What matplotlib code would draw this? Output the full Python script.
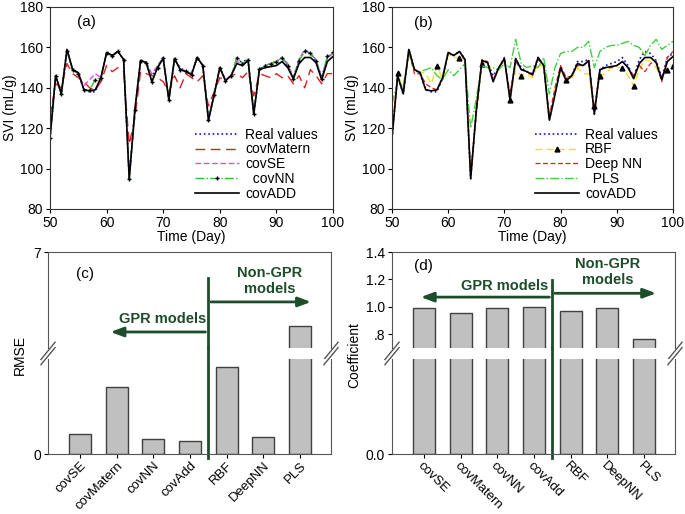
import matplotlib
matplotlib.use("Agg")
import matplotlib.pyplot as plt

plt.rcParams['font.family'] = ['Liberation Sans', 'DejaVu Sans']
plt.rcParams['font.size'] = 9.5

# ---- time series data ----
days = list(range(50, 101))

real_values = [115, 146, 137, 159, 149, 147, 139, 138, 138, 145,
               157.5, 156, 158, 154, 95, 129, 153.5, 152.5, 146, 150,
               155, 134, 154, 150, 148, 147, 155, 151, 124, 137,
               150, 144, 146, 153, 153, 154, 127, 149, 151, 152,
               153, 155, 151, 145, 154, 158, 157, 153.5, 145, 155, 157]
cov_add = [115, 146, 137, 159, 149, 147.5, 139, 138.5, 139, 145,
           157.5, 156, 158, 154, 95, 129, 153.5, 152.5, 143, 150,
           154.5, 134, 154.5, 149, 148, 146.5, 155, 151, 124, 136.5,
           150, 143.5, 146, 152, 151, 153.5, 127, 149, 150, 150.5,
           151, 153, 150, 144.5, 152, 155, 155, 152.5, 144, 153, 155.5]
cov_nn = [115, 146, 137, 158, 149, 147, 139, 139, 144, 145,
          157, 155.5, 158, 154, 95, 129, 153.5, 152.5, 143, 150,
          155, 134, 154.5, 149, 148.5, 146.5, 155, 151, 124, 136.5,
          150, 143.5, 146, 155, 152, 154, 127, 149.5, 151, 152,
          153, 155, 151, 144.5, 153.5, 158, 157, 153.5, 144.5, 155.5, 157.5]
cov_se = [116, 146, 138, 158, 149, 147, 141, 144, 147, 145,
          157, 156, 158, 154, 96, 129, 153, 152, 147, 151,
          155, 135, 154, 150, 148, 147, 155, 151, 125, 137,
          150, 144, 146, 153, 152, 154, 128, 149, 151, 152,
          153, 155, 152, 145, 154, 159, 157, 154, 145, 155, 157]
cov_matern = [126, 142, 140, 152, 147, 145, 143, 140, 139, 143,
              151, 148, 150, 148, 112, 125, 148, 147, 146, 145,
              143, 138, 146, 140, 147, 145, 143, 146, 131, 138,
              145, 144, 146, 147, 145, 148, 136, 147, 146, 145,
              147, 145, 146, 142, 146, 140, 149, 146, 142, 147, 147]

rbf = [118, 147.5, 138, 158, 148, 148, 147, 142, 151, 144,
       157, 155, 155, 153, 97, 127, 152, 152, 144, 150,
       153, 134, 149, 146, 147, 145, 152, 150, 124, 140,
       148, 144, 145, 150, 147, 147, 131, 146, 147, 150,
       150, 150, 146, 141, 149, 154, 153, 150, 144, 149, 151]
deep_nn = [117, 146, 138, 158, 147, 147, 142, 140, 139, 144,
           157, 156, 158, 153, 97, 127, 154, 153, 144, 150,
           154, 137, 153, 149, 148, 146, 154, 151, 126, 140,
           151, 145, 146, 151, 151, 153, 129, 149, 150, 150,
           151, 153, 150, 146, 151, 148, 152, 153, 143, 155, 158]
pls = [132, 143, 141, 157, 149, 148, 149, 150, 146, 144,
       149, 146, 149, 152, 120, 135, 151, 150, 150, 149,
       152, 150, 164, 152, 150, 151, 150, 155, 137, 150,
       157, 158, 158, 160, 160, 163, 150, 158, 160, 161,
       161, 162, 163, 161, 160, 156, 161, 164, 159, 161, 163]

# ---- bar data ----
models = ['covSE', 'covMatern', 'covNN', 'covAdd', 'RBF', 'DeepNN', 'PLS']
rmse = [0.63, 2.12, 0.47, 0.41, 2.75, 0.54, 5.46]
coef = [0.99, 0.956, 0.993, 0.998, 0.97, 0.99, 0.763]

W, H = 685, 514
fig = plt.figure(figsize=(6.85, 5.14), dpi=100)


def rect(l, t, r, b):
    return [l / W, 1 - b / H, (r - l) / W, (b - t) / H]


GREEN = '#1d4d2a'

# ---------- (a) ----------
ax = fig.add_axes(rect(50, 7, 333, 209))
ax.plot(days, real_values, color='#1010e0', ls=':', lw=1.2, label='Real values')
ax.plot(days, cov_matern, color='#e02020', ls=(0, (7, 4)), lw=1, label='covMatern')
ax.plot(days, cov_se, color='#e050e0', ls=(0, (4, 2)), lw=1, label='covSE')
ax.plot(days, cov_nn, color='#30c030', ls='-.', lw=1, marker='+', ms=3,
        mec='black', mew=1, label='  covNN')
ax.plot(days, cov_add, color='black', lw=1.2, label='covADD')
ax.text(0.13, 0.925, '(a)', transform=ax.transAxes, fontsize=11, ha='center', va='center')

# ---------- (b) ----------
bx = fig.add_axes(rect(392, 7, 673, 209))
bx.plot(days, real_values, color='#1010e0', ls=':', lw=1.2, label='Real values')
bx.plot(days, rbf, color='#f0e020', ls=(0, (5, 3)), lw=1, marker='^', ms=3.5,
        mec='black', mfc='black', markevery=[1, 8, 12, 16, 21, 23, 31, 36, 37, 41, 43, 49, 50],
        label='RBF')
bx.plot(days, deep_nn, color='#e02020', ls=(0, (4, 2)), lw=0.9, label='Deep NN')
bx.plot(days, pls, color='#40d040', ls='-.', lw=1, label='  PLS')
bx.plot(days, cov_add, color='black', lw=1.2, label='covADD')
bx.text(0.11, 0.92, '(b)', transform=bx.transAxes, fontsize=11, ha='center', va='center')

for a in (ax, bx):
    a.set_xlim(50, 100)
    a.set_ylim(80, 180)
    a.set_xticks(range(50, 101, 10))
    a.set_yticks(range(80, 181, 20))
    a.set_xlabel('Time (Day)', fontsize=10, labelpad=0)
    a.set_ylabel('SVI (mL/g)', fontsize=10, labelpad=2)
    a.tick_params(direction='out', length=3, pad=2, labelsize=10)
    for s in a.spines.values():
        s.set_color('#333333')
    a.legend(loc='lower right', bbox_to_anchor=(0.99, -0.02), frameon=False,
             fontsize=10, handlelength=3.2, labelspacing=0.05, handletextpad=0.4)


# ---------- bar panels ----------
def bar_panel(l, r, values, up_lim, low_lim, up_ticks, up_labels, low_ticks, low_labels,
              ylabel, ylab_x, tag, tag_xy, rot, ha, gpr_y, gpr_end, gpr_txt,
              non_y, non_end, non_txt, line_top):
    up = fig.add_axes(rect(l, 252, r, 348))
    lo = fig.add_axes(rect(l, 359, r, 454))
    x = range(len(models))
    for a in (up, lo):
        a.bar(x, values, width=0.6, color='#c0c0c0', edgecolor='#404040', lw=1)
        a.set_xlim(-0.87, 6.85)
        for s in a.spines.values():
            s.set_color('#555555')
        a.tick_params(direction='out', length=3, pad=2, labelsize=10)
    up.set_ylim(*up_lim)
    lo.set_ylim(*low_lim)
    up.spines['bottom'].set_visible(False)
    lo.spines['top'].set_visible(False)
    up.set_xticks([])
    up.set_yticks(up_ticks)
    up.set_yticklabels(up_labels)
    lo.set_yticks(low_ticks)
    lo.set_yticklabels(low_labels)
    lo.set_xticks(list(x))
    lo.set_xticklabels(models, rotation=rot, ha=ha, va='top', rotation_mode='anchor', fontsize=9.5)
    lo.tick_params(axis='x', pad=1)

    # break marks
    d = 0.025
    kw = dict(color='#555555', lw=1, clip_on=False)
    for xx in (0, 1):
        up.plot([xx - d, xx + d], [-0.12, 0.06], transform=up.transAxes, **kw)
        lo.plot([xx - d, xx + d], [0.94, 1.12], transform=lo.transAxes, **kw)

    # separator and arrows
    up.plot([3.5, 3.5], [0, line_top], color=GREEN, lw=2, transform=up.get_xaxis_transform(), clip_on=False)
    lo.plot([3.5, 3.5], [-0.04, 1.12], color=GREEN, lw=2, transform=lo.get_xaxis_transform(), clip_on=False)
    tr = up.get_xaxis_transform()
    up.annotate('', xy=(gpr_end, gpr_y), xytext=(3.5, gpr_y), xycoords=tr, textcoords=tr,
                arrowprops=dict(arrowstyle='-|>,head_length=0.8,head_width=0.3', color=GREEN, lw=2))
    up.annotate('', xy=(non_end, non_y), xytext=(3.5, non_y), xycoords=tr, textcoords=tr,
                arrowprops=dict(arrowstyle='-|>,head_length=0.8,head_width=0.3', color=GREEN, lw=2))
    up.text(gpr_txt[0], gpr_txt[1], 'GPR models', transform=tr, color=GREEN,
            fontweight='bold', fontsize=10.5, ha='center', va='center')
    up.text(non_txt[0], non_txt[1], 'Non-GPR\nmodels', transform=tr, color=GREEN,
            fontweight='bold', fontsize=10.5, ha='center', va='center', linespacing=1.15)
    up.text(tag_xy[0], tag_xy[1], tag, transform=up.transAxes, fontsize=11, ha='center', va='center')
    fig.text(ylab_x / W, 1 - 355 / H, ylabel, rotation=90, ha='center', va='center', fontsize=10)
    return up, lo


bar_panel(48, 331, rmse, (5, 7), (0, 3), [7], ['7'], [0], ['0'],
          'RMSE', 20, '(c)', (0.13, 0.77), 45, 'right',
          0.167, 0.76, (2.26, 0.30), 0.48, 6.38, (5.18, 0.70), 0.73)
bar_panel(392, 675, coef, (0.7, 1.4), (0, 0.7), [0.8, 1.0, 1.2, 1.4], ['.8', '1.0', '1.2', '1.4'],
          [0], ['0.0'], 'Coefficient', 354, '(d)', (0.11, 0.85), -45, 'left',
          0.53, -0.16, (2.21, 0.65), 0.57, 6.41, (5.02, 0.79), 0.71)

fig.savefig('out.png', dpi=100)
